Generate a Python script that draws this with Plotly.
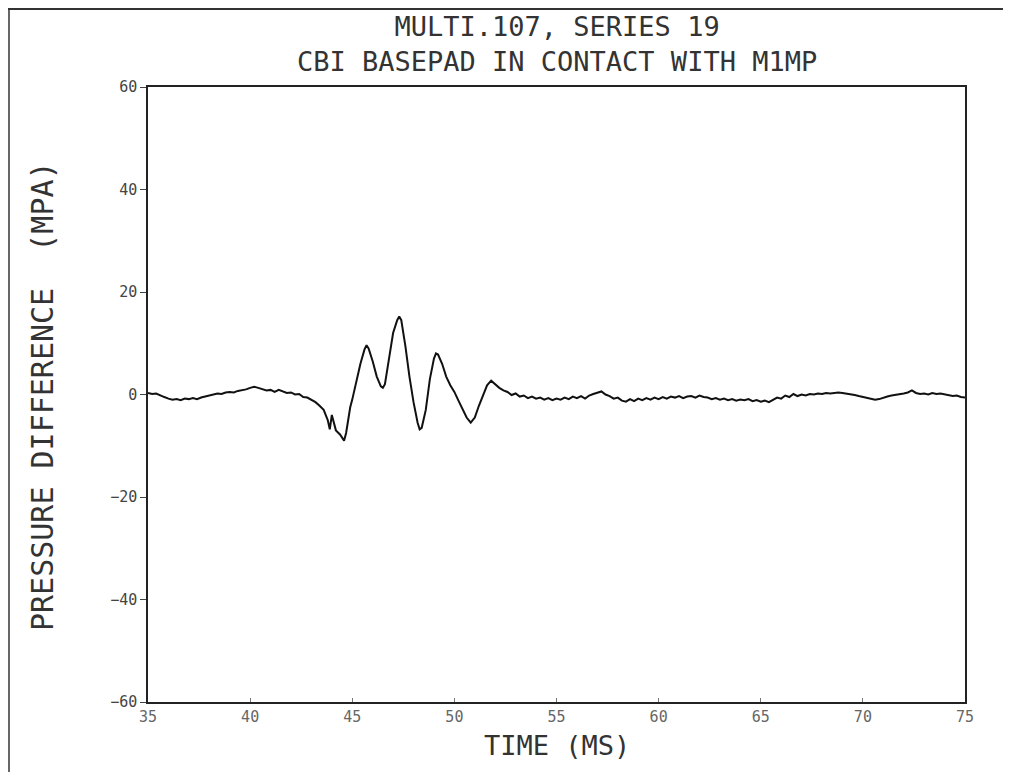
import plotly.graph_objects as go

# pressure trace (time in ms, pressure in MPa)
time_ms = [
    35.0, 35.2, 35.4, 35.6, 35.8, 36.0, 36.2, 36.4, 36.6, 36.8,
    37.0, 37.2, 37.4, 37.6, 37.8, 38.0, 38.2, 38.4, 38.6, 38.8,
    39.0, 39.2, 39.4, 39.6, 39.8, 40.0, 40.2, 40.4, 40.6, 40.8,
    41.0, 41.2, 41.4, 41.6, 41.8, 42.0, 42.2, 42.4, 42.6, 42.8,
    43.0, 43.2, 43.4, 43.6, 43.8, 43.9, 44.0, 44.1, 44.2, 44.4,
    44.6, 44.7, 44.8, 44.9, 45.0, 45.2, 45.4, 45.6, 45.7, 45.8,
    46.0, 46.2, 46.4, 46.5, 46.6, 46.8, 47.0, 47.2, 47.3, 47.4,
    47.6, 47.8, 48.0, 48.2, 48.3, 48.4, 48.6, 48.8, 49.0, 49.1,
    49.2, 49.4, 49.6, 49.8, 50.0, 50.2, 50.4, 50.6, 50.8, 51.0,
    51.2, 51.4, 51.6, 51.8, 52.0, 52.2, 52.4, 52.6, 52.8, 53.0,
    53.2, 53.4, 53.6, 53.8, 54.0, 54.2, 54.4, 54.6, 54.8, 55.0,
    55.2, 55.4, 55.6, 55.8, 56.0, 56.2, 56.4, 56.6, 56.8, 57.0,
    57.2, 57.4, 57.6, 57.8, 58.0, 58.2, 58.4, 58.6, 58.8, 59.0,
    59.2, 59.4, 59.6, 59.8, 60.0, 60.2, 60.4, 60.6, 60.8, 61.0,
    61.2, 61.4, 61.6, 61.8, 62.0, 62.2, 62.4, 62.6, 62.8, 63.0,
    63.2, 63.4, 63.6, 63.8, 64.0, 64.2, 64.4, 64.6, 64.8, 65.0,
    65.2, 65.4, 65.6, 65.8, 66.0, 66.2, 66.4, 66.6, 66.8, 67.0,
    67.2, 67.4, 67.6, 67.8, 68.0, 68.2, 68.4, 68.6, 68.8, 69.0,
    69.2, 69.4, 69.6, 69.8, 70.0, 70.2, 70.4, 70.6, 70.8, 71.0,
    71.2, 71.4, 71.6, 71.8, 72.0, 72.2, 72.4, 72.6, 72.8, 73.0,
    73.2, 73.4, 73.6, 73.8, 74.0, 74.2, 74.4, 74.6, 74.8, 75.0,
]
pressure_mpa = [
    0.3, 0.1, 0.2, -0.2, -0.5, -0.8, -1.0, -0.9, -1.1, -0.8,
    -0.9, -0.7, -0.9, -0.6, -0.4, -0.2, 0.0, 0.2, 0.1, 0.4,
    0.5, 0.4, 0.7, 0.8, 1.0, 1.3, 1.5, 1.3, 1.1, 0.8,
    0.9, 0.5, 0.9, 0.6, 0.3, 0.4, 0.0, 0.1, -0.5, -0.6,
    -1.1, -1.5, -2.2, -3.0, -5.0, -6.8, -4.0, -5.5, -7.0, -7.8,
    -9.0, -7.5, -4.5, -2.5, -1.0, 2.5, 6.0, 8.8, 9.6, 9.0,
    6.5, 3.5, 1.6, 1.3, 2.0, 7.0, 12.0, 14.5, 15.2, 14.5,
    9.5, 3.5, -1.5, -5.5, -6.8, -6.5, -3.0, 3.0, 7.0, 8.0,
    7.8, 6.0, 3.5, 1.8, 0.5, -1.2, -2.8, -4.5, -5.5, -4.5,
    -2.2, 0.0, 1.8, 2.7, 2.0, 1.3, 0.8, 0.5, -0.1, 0.2,
    -0.4, -0.2, -0.7, -0.4, -0.8, -0.6, -1.0, -0.7, -1.1, -0.8,
    -1.0, -0.6, -0.9, -0.4, -0.7, -0.3, -0.8, -0.2, 0.1, 0.3,
    0.6, 0.0, -0.3, -0.8, -0.6, -1.2, -1.4, -0.9, -1.3, -0.8,
    -1.1, -0.7, -1.0, -0.6, -0.9, -0.5, -0.8, -0.4, -0.6, -0.3,
    -0.7, -0.4, -0.3, -0.6, -0.2, -0.5, -0.6, -0.9, -0.7, -1.0,
    -0.8, -1.1, -0.9, -1.2, -1.0, -1.1, -0.9, -1.3, -1.1, -1.4,
    -1.2, -1.5, -1.1, -0.6, -0.8, -0.2, -0.5, 0.1, -0.3, 0.0,
    -0.2, 0.1, 0.0, 0.2, 0.1, 0.3, 0.2, 0.3, 0.4, 0.3,
    0.2, 0.1, -0.1, -0.3, -0.5, -0.7, -0.9, -1.0, -0.9, -0.6,
    -0.4, -0.2, -0.1, 0.1, 0.2, 0.4, 0.8, 0.3, 0.1, 0.2,
    0.0, 0.3, 0.1, 0.2, 0.0, -0.1, -0.3, -0.2, -0.5, -0.6,
]

x_ticks = [35, 40, 45, 50, 55, 60, 65, 70, 75]
y_ticks = [-60, -40, -20, 0, 20, 40, 60]

title_lines = ["MULTI.107, SERIES 19", "CBI BASEPAD IN CONTACT WITH M1MP"]
x_title = "TIME (MS)"
y_title = "PRESSURE DIFFERENCE  (MPA)"

FONT = "DejaVu Sans Mono"
INK = "#333333"

# page body has an 8px margin, so the figure is a little smaller than the window
W, H = 1003, 764
ML, MR, MT, MB = 140, 46, 79, 70
PW, PH = W - ML - MR, H - MT - MB


def px(x):
    return (x - ML) / PW


def py(y):
    return (H - MB - y) / PH


fig = go.Figure(go.Scatter(
    x=time_ms, y=pressure_mpa, mode="lines",
    line=dict(color="#111111", width=2),
    showlegend=False,
))

fig.update_layout(
    width=W, height=H,
    paper_bgcolor="white", plot_bgcolor="white",
    margin=dict(l=ML, r=MR, t=MT, b=MB),
    font=dict(family=FONT, color=INK),
    xaxis=dict(
        range=[35, 75], tickvals=x_ticks,
        showgrid=False, zeroline=False,
        showline=True, linecolor="#222", linewidth=2, mirror=True,
        ticks="inside", ticklen=4, tickcolor="#777",
        tickfont=dict(family=FONT, size=15, color="#666"),
    ),
    yaxis=dict(
        range=[-60, 60], tickvals=y_ticks,
        showgrid=False, zeroline=False,
        showline=True, linecolor="#222", linewidth=1.5, mirror=True,
        ticks="outside", ticklen=6, tickcolor="#444",
        tickfont=dict(family=FONT, size=15, color="#444"),
    ),
)

# titles placed as annotations to match the plotter layout
ann = dict(xref="paper", yref="paper", showarrow=False, xanchor="center")
fig.add_annotation(text="<br>".join(title_lines), x=px(549), y=py(1),
                   yanchor="top",
                   font=dict(family=FONT, size=27, color=INK), **ann)
fig.add_annotation(text=x_title, x=px(549), y=py(737), yanchor="middle",
                   font=dict(family=FONT, size=27, color=INK), **ann)
fig.add_annotation(text=y_title, x=px(34), y=py(388), yanchor="middle",
                   textangle=-90,
                   font=dict(family=FONT, size=30, color=INK), **ann)

# border lines of the scanned page
fig.add_shape(type="line", xref="paper", yref="paper",
              x0=px(0), x1=px(W), y0=py(1), y1=py(1),
              line=dict(color="#333", width=2))
fig.add_shape(type="line", xref="paper", yref="paper",
              x0=px(1), x1=px(1), y0=py(1), y1=py(H),
              line=dict(color="#333", width=1.5))

fig.write_html("out.html")
